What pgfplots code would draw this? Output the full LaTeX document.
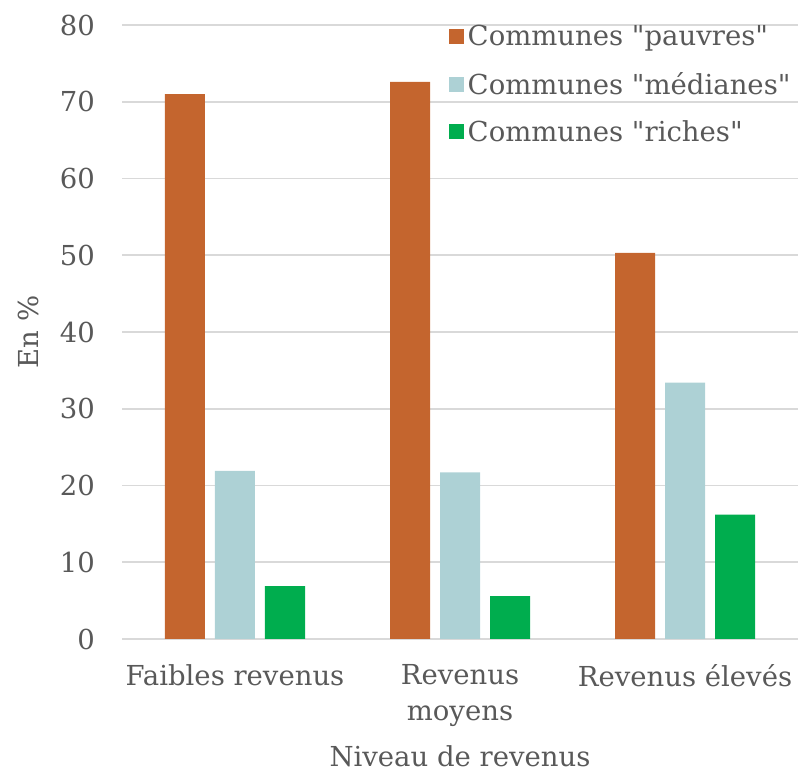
\documentclass[border=0pt]{standalone}
\usepackage{fontspec}
\setmainfont{DejaVu Serif}[Ligatures=TeXOff]
\usepackage{pgfplots}
\pgfplotsset{compat=1.18}
\definecolor{c1}{HTML}{C4652E}
\definecolor{c2}{HTML}{ADD1D5}
\definecolor{c3}{HTML}{00AD4E}
\definecolor{txt}{HTML}{595959}
\definecolor{gridc}{HTML}{D9D9D9}
\newcommand{\bigf}{\fontsize{27.5}{36}\selectfont}
\newcommand{\q}{\symbol{34}}
\begin{document}
\begin{tikzpicture}[x=1pt,y=1pt]
\begin{axis}[
  at={(0,0)}, anchor=south west,
  scale only axis, width=675pt, height=614pt,
  xmin=-0.5, xmax=2.5, ymin=0, ymax=80,
  xtick={0,1,2},
  xticklabels={Faibles revenus, Revenus\\moyens, Revenus élevés},
  ytick={0,10,...,80},
  /pgf/number format/assume math mode=true,
  ymajorgrids, grid style={gridc, line width=1.6pt},
  axis line style={draw=none},
  major tick length=0pt,
  ybar=10pt, bar width=40pt,
  tick label style={text=txt, font=\bigf},
  yticklabel style={xshift=-24pt},
  xticklabel style={align=center, yshift=-22pt},
  xlabel={Niveau de revenus}, ylabel={En \%},
  label style={text=txt, font=\bigf},
  xlabel style={yshift=-12pt},
  ylabel style={yshift=14pt},
  legend style={at={(rel axis cs:0.483,1.003)}, anchor=north west, draw=none, fill=none,
    font=\bigf, text=txt, row sep=21pt, inner sep=0pt,
    /tikz/every odd column/.append style={column sep=2pt}},
  legend cell align=left,
]
\addplot[fill=c1, draw=none, legend image code/.code={\fill[c1] (0pt,-7.5pt) rectangle (15pt,7.5pt);}]
  coordinates {(0,71.0) (1,72.6) (2,50.3)};
\addplot[fill=c2, draw=none, legend image code/.code={\fill[c2] (0pt,-7.5pt) rectangle (15pt,7.5pt);}]
  coordinates {(0,21.9) (1,21.7) (2,33.4)};
\addplot[fill=c3, draw=none, legend image code/.code={\fill[c3] (0pt,-7.5pt) rectangle (15pt,7.5pt);}]
  coordinates {(0,6.9) (1,5.6) (2,16.2)};
\legend{Communes \q pauvres\q, Communes \q médianes\q, Communes \q riches\q}
\end{axis}
\pgfresetboundingbox
\path (-122.5,-134) rectangle (678.5,639);
\end{tikzpicture}
\end{document}
